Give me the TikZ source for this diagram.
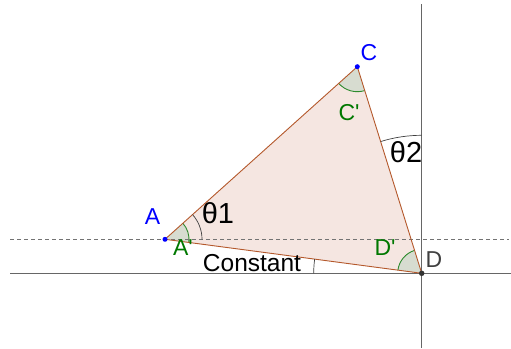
\documentclass[tikz,border=0pt]{standalone}
\usepackage{fontspec}
\setmainfont{Liberation Sans}
\begin{document}
\begin{tikzpicture}[x=1pt,y=1pt,
  axisline/.style={draw=black!60,line width=1.3pt},
  dashline/.style={draw=black!55,line width=1pt,dash pattern=on 4pt off 3pt},
  triedge/.style={draw=triedge,line width=0.9pt},
  greenarc/.style={draw=anglegreen,line width=0.9pt},
  measarc/.style={draw=black!75,line width=0.7pt},
  lbl/.style={inner sep=0pt,font=\fontsize{23}{27}\selectfont},
  biglbl/.style={inner sep=0pt,font=\fontsize{29}{33}\selectfont},
  ptdot/.style={circle,inner sep=0pt,minimum size=5pt}]
\definecolor{trifill}{HTML}{F5E6E1}
\definecolor{triedge}{HTML}{B4582B}
\definecolor{anglefill}{HTML}{D7DCD0}
\definecolor{anglegreen}{HTML}{2E8B2E}
\definecolor{lblgreen}{HTML}{007800}
\useasboundingbox (0,0) rectangle (511,348);
% points
\coordinate (A) at (165,108.7);
\coordinate (C) at (357.3,281.3);
\coordinate (D) at (421.7,74.7);
\coordinate (hl) at (10,74.7);
\coordinate (hr) at (511,74.7);
\coordinate (dl) at (10,108.7);
\coordinate (dr) at (509,108.7);
\coordinate (vt) at (421.7,344);
\coordinate (vb) at (421.7,0);
% triangle
\fill[trifill] (A) -- (C) -- (D) -- cycle;
% angle sectors
\fill[anglefill] (A) -- ++(-7.55:24) arc[start angle=-7.55,end angle=41.9,radius=24] -- cycle;
\draw[greenarc] (A) ++(-7.55:24) arc[start angle=-7.55,end angle=41.9,radius=24];
\fill[anglefill] (C) -- ++(221.9:25) arc[start angle=221.9,end angle=287.3,radius=25] -- cycle;
\draw[greenarc] (C) ++(221.9:25) arc[start angle=221.9,end angle=287.3,radius=25];
\fill[anglefill] (D) -- ++(107.3:24) arc[start angle=107.3,end angle=172.45,radius=24] -- cycle;
\draw[greenarc] (D) ++(107.3:24) arc[start angle=107.3,end angle=172.45,radius=24];
% lines
\draw[axisline] (hl) -- (hr);
\draw[axisline] (vb) -- (vt);
\draw[dashline] (dl) -- (dr);
\draw[triedge] (A) -- (C) -- (D) -- cycle;
% measurement arcs
\draw[measarc] (A) ++(0:37) arc[start angle=0,end angle=41.9,radius=37];
\draw[measarc] (D) ++(90:138) arc[start angle=90,end angle=107.3,radius=138];
\draw[measarc] (D) ++(172.45:108) arc[start angle=172.45,end angle=180,radius=108];
% dots
\node[ptdot,fill=blue] (Ad) at (A) {};
\node[ptdot,fill=blue] (Cd) at (C) {};
\node[ptdot,fill=black!80,minimum size=5.5pt] (Dd) at (D) {};
% labels
\node[lbl,text=blue] (LA) at (152.5,131.5) {A};
\node[lbl,text=blue] (LC) at (369,295) {C};
\node[lbl,text=black!75] (LD) at (434,88) {D};
\node[lbl,text=lblgreen] (LA2) at (183,100) {A\textquotesingle};
\node[lbl,text=lblgreen] (LC2) at (349,235) {C\textquotesingle};
\node[lbl,text=lblgreen] (LD2) at (385,100) {D\textquotesingle};
\node[biglbl] (T1) at (218,135.3) {θ1};
\node[biglbl] (T2) at (406,195.5) {θ2};
\node[lbl,font=\fontsize{24.5}{28}\selectfont] (K) at (252,85) {Constant};
\end{tikzpicture}
\end{document}
